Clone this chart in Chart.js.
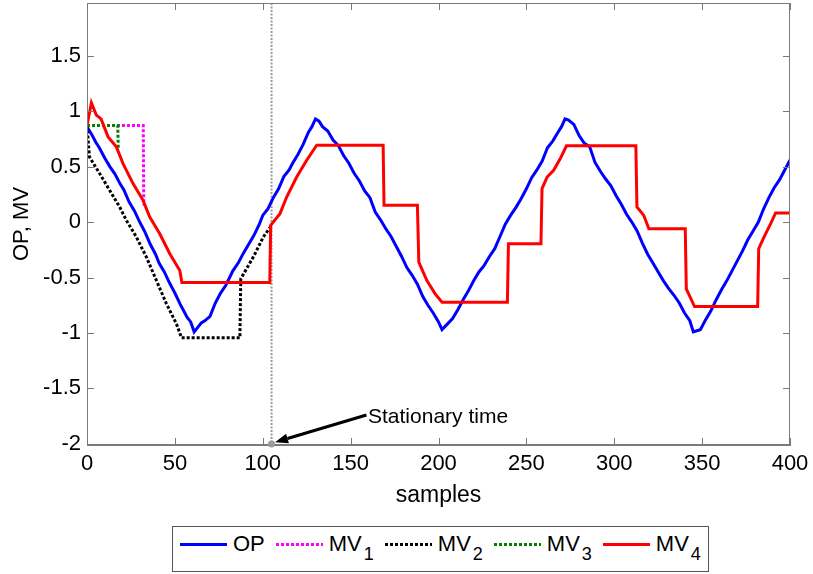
<!DOCTYPE html>
<html>
<head>
<meta charset="utf-8">
<script src="https://cdn.jsdelivr.net/npm/chart.js@4.4.1/dist/chart.umd.min.js"></script>
<style>
  html, body { margin: 0; padding: 0; background: #fff; }
  #wrap { position: relative; width: 813px; height: 574px; overflow: hidden; font-family: "Liberation Sans", Arial, sans-serif; color: #000; }
  #chart { position: absolute; left: 0; top: 0; }
  #note { position: absolute; left: 368px; top: 405px; font-size: 21px; line-height: 21px; white-space: nowrap; }
  #legend { position: absolute; left: 172px; top: 526px; width: 528px; height: 38px; padding-top: 6px; border: 1px solid #555; background: #fff; display: flex; align-items: flex-start; padding-left: 7px; box-sizing: content-box; }
  .item { display: flex; align-items: center; height: 22px; margin-right: 11px; }
  .swatch { width: 47px; height: 3px; margin-right: 6px; }
  .lbl { font-size: 22px; line-height: 22px; white-space: nowrap; }
  .lbl sub { font-size: 18px; vertical-align: -9px; line-height: 0; margin-left: 2px; }
</style>
</head>
<body>
<div id="wrap">
  <canvas id="chart" width="813" height="574"></canvas>
  <div id="note">Stationary time</div>
  <div id="legend"></div>
</div>
<script>
// axis ticks
const xTicks = [0, 50, 100, 150, 200, 250, 300, 350, 400];
const yTicks = [-2, -1.5, -1, -0.5, 0, 0.5, 1, 1.5];

// OP (output)
const opX = [
  0, 3, 5, 7, 10, 13, 16, 19, 21, 24,
  27, 30, 33, 36, 39, 41, 44, 47, 50, 53,
  55, 57, 59, 61, 63, 65, 67, 70, 73, 76,
  79, 83, 86, 89, 92, 95, 98, 100, 103, 106,
  109, 112, 115, 117, 120, 123, 126, 128, 130, 132,
  134, 137, 140, 143, 146, 149, 152, 155, 158, 161,
  164, 167, 170, 173, 176, 179, 182, 185, 188, 191,
  194, 197, 200, 202, 205, 208, 211, 214, 217, 220,
  223, 226, 229, 232, 235, 238, 241, 244, 247, 250,
  253, 256, 259, 262, 265, 268, 270, 272, 274, 277,
  280, 283, 286, 289, 292, 295, 298, 301, 304, 307,
  310, 313, 316, 319, 322, 325, 328, 331, 334, 337,
  340, 343, 345, 347, 349, 352, 355, 358, 361, 364,
  367, 370, 373, 376, 379, 382, 385, 388, 391, 394,
  397, 400
];
const opY = [
  0.86, 0.78, 0.72, 0.67, 0.58, 0.50, 0.43, 0.34, 0.29, 0.18,
  0.10, 0.00, -0.09, -0.20, -0.29, -0.37, -0.45, -0.55, -0.64, -0.74,
  -0.80, -0.86, -0.90, -0.99, -0.95, -0.91, -0.89, -0.85, -0.73, -0.64,
  -0.57, -0.44, -0.37, -0.28, -0.20, -0.12, -0.02, 0.06, 0.12, 0.22,
  0.30, 0.41, 0.47, 0.53, 0.61, 0.70, 0.81, 0.86, 0.93, 0.91,
  0.86, 0.82, 0.74, 0.69, 0.60, 0.53, 0.44, 0.37, 0.28, 0.22,
  0.09, 0.02, -0.06, -0.13, -0.22, -0.31, -0.41, -0.48, -0.56, -0.67,
  -0.75, -0.82, -0.90, -0.97, -0.92, -0.87, -0.79, -0.70, -0.62, -0.53,
  -0.45, -0.39, -0.31, -0.24, -0.13, -0.02, 0.06, 0.13, 0.21, 0.30,
  0.40, 0.47, 0.55, 0.67, 0.73, 0.81, 0.86, 0.93, 0.92, 0.88,
  0.78, 0.71, 0.68, 0.54, 0.46, 0.39, 0.33, 0.24, 0.16, 0.07,
  0.00, -0.08, -0.19, -0.29, -0.37, -0.45, -0.53, -0.60, -0.66, -0.73,
  -0.82, -0.89, -0.99, -0.98, -0.97, -0.88, -0.80, -0.70, -0.61, -0.53,
  -0.44, -0.35, -0.26, -0.16, -0.08, 0.00, 0.12, 0.22, 0.31, 0.38,
  0.47, 0.56
];

// MV1 (magenta, dotted)
const mv1X = [0, 32, 32.3];
const mv1Y = [0.87, 0.87, 0.15];

// MV2 (black, dotted)
const mv2X = [0, 1.4, 7.2, 12.9, 18.6, 22.4, 28.1, 33.8, 39.5, 45.2, 50.9, 53.8, 87, 87.5, 94.6, 100.3, 105];
const mv2Y = [0.87, 0.587, 0.437, 0.286, 0.135, 0.015, -0.135, -0.316, -0.527, -0.737, -0.918, -1.044, -1.044, -0.511, -0.316, -0.135, -0.03];

// MV3 (green, dotted)
const mv3X = [0, 17.5, 17.8];
const mv3Y = [0.87, 0.87, 0.65];

// MV4 (red)
const mv4X = [
  0, 2.5, 5.3, 8, 12, 16.7, 20.5, 26.2, 31.9, 35.7,
  41.4, 47.1, 52.8, 54, 104, 104.5, 109.8, 113.6, 119.3, 125,
  130.7, 168.5, 169, 188, 188.8, 193.4, 198.1, 202, 239.2, 239.8,
  258.3, 258.9, 261.8, 265.5, 269.3, 272.8, 312.3, 312.9, 316.8, 319.7,
  340.4, 341, 345.7, 381.6, 382.2, 385.2, 389, 391.8, 400
];
const mv4Y = [
  0.87, 1.075, 0.964, 0.93, 0.768, 0.678, 0.527, 0.347, 0.196, 0.045,
  -0.105, -0.285, -0.436, -0.545, -0.545, -0.03, 0.076, 0.226, 0.406, 0.557,
  0.693, 0.693, 0.151, 0.151, -0.361, -0.527, -0.647, -0.723, -0.723, -0.195,
  -0.195, 0.302, 0.406, 0.467, 0.572, 0.687, 0.687, 0.136, 0.06, -0.06,
  -0.06, -0.602, -0.762, -0.762, -0.24, -0.135, -0.015, 0.082, 0.082
];

// stationary time marker and arrow (data space)
const stationaryTime = 105;
const arrowFrom = { x: 159, y: -1.74 };
const arrowTo = { x: 107, y: -1.985 };

const FONT = '"Liberation Sans", Arial, sans-serif';
const toPts = (xs, ys) => xs.map((x, i) => ({ x: x, y: ys[i] }));

const series = [
  { label: 'OP', sub: '', color: '#0000ff', dash: [], xs: opX, ys: opY, order: 5 },
  { label: 'MV', sub: '1', color: '#ff00ff', dash: [3, 2], xs: mv1X, ys: mv1Y, order: 4 },
  { label: 'MV', sub: '2', color: '#000000', dash: [3, 2], xs: mv2X, ys: mv2Y, order: 3 },
  { label: 'MV', sub: '3', color: '#008000', dash: [3, 2], xs: mv3X, ys: mv3Y, order: 2 },
  { label: 'MV', sub: '4', color: '#ff0000', dash: [], xs: mv4X, ys: mv4Y, order: 1 }
];

// legend (html, for subscripts)
const legendEl = document.getElementById('legend');
series.forEach(s => {
  const item = document.createElement('div');
  item.className = 'item';
  const sw = document.createElement('div');
  sw.className = 'swatch';
  sw.style.background = s.dash.length
    ? `repeating-linear-gradient(90deg, ${s.color} 0 3px, transparent 3px 5px)`
    : s.color;
  const lbl = document.createElement('span');
  lbl.className = 'lbl';
  lbl.innerHTML = s.label + (s.sub ? `<sub>${s.sub}</sub>` : '');
  item.appendChild(sw);
  item.appendChild(lbl);
  legendEl.appendChild(item);
});

// MATLAB-ish box with inward ticks, stationary line and arrow
const boxPlugin = {
  id: 'boxPlugin',
  beforeDatasetsDraw(chart) {
    const { ctx, chartArea: a, scales: { x } } = chart;
    const px = x.getPixelForValue(stationaryTime);
    ctx.save();
    ctx.strokeStyle = '#9a9a9a';
    ctx.lineWidth = 2;
    ctx.setLineDash([2, 1.5]);
    ctx.beginPath();
    ctx.moveTo(px, a.top);
    ctx.lineTo(px, a.bottom);
    ctx.stroke();
    ctx.restore();
  },
  afterDatasetsDraw(chart) {
    const { ctx, chartArea: a, scales: { x, y } } = chart;
    ctx.save();
    // box
    ctx.strokeStyle = '#7a7a7a';
    ctx.lineWidth = 1;
    ctx.strokeRect(a.left + 0.5, a.top + 0.5, a.right - a.left - 1, a.bottom - a.top - 1);
    // inward ticks
    const tl = 7;
    ctx.beginPath();
    xTicks.forEach(v => {
      const p = Math.round(x.getPixelForValue(v)) + 0.5;
      ctx.moveTo(p, a.bottom); ctx.lineTo(p, a.bottom - tl);
      ctx.moveTo(p, a.top); ctx.lineTo(p, a.top + tl);
    });
    yTicks.forEach(v => {
      const p = Math.round(y.getPixelForValue(v)) + 0.5;
      ctx.moveTo(a.left, p); ctx.lineTo(a.left + tl, p);
      ctx.moveTo(a.right, p); ctx.lineTo(a.right - tl, p);
    });
    ctx.stroke();

    // marker dot
    ctx.fillStyle = '#9a9a9a';
    ctx.beginPath();
    ctx.arc(x.getPixelForValue(stationaryTime), y.getPixelForValue(-2), 3.5, 0, Math.PI * 2);
    ctx.fill();

    // arrow
    const x0 = x.getPixelForValue(arrowFrom.x), y0 = y.getPixelForValue(arrowFrom.y);
    const x1 = x.getPixelForValue(arrowTo.x), y1 = y.getPixelForValue(arrowTo.y);
    const ang = Math.atan2(y1 - y0, x1 - x0);
    const hl = 13, hw = 5;
    const bx = x1 - hl * Math.cos(ang), by = y1 - hl * Math.sin(ang);
    ctx.strokeStyle = '#000';
    ctx.fillStyle = '#000';
    ctx.lineWidth = 3;
    ctx.beginPath();
    ctx.moveTo(x0, y0);
    ctx.lineTo(bx, by);
    ctx.stroke();
    ctx.beginPath();
    ctx.moveTo(x1, y1);
    ctx.lineTo(bx + hw * Math.sin(ang), by - hw * Math.cos(ang));
    ctx.lineTo(bx - hw * Math.sin(ang), by + hw * Math.cos(ang));
    ctx.closePath();
    ctx.fill();
    ctx.restore();
  }
};

new Chart(document.getElementById('chart'), {
  type: 'line',
  data: {
    datasets: series.map(s => ({
      label: s.label + s.sub,
      data: toPts(s.xs, s.ys),
      borderColor: s.color,
      backgroundColor: s.color,
      borderWidth: 3,
      borderDash: s.dash,
      pointRadius: 0,
      tension: 0,
      fill: false,
      order: s.order
    }))
  },
  options: {
    responsive: false,
    animation: false,
    devicePixelRatio: 1,
    layout: { padding: { left: 0, right: 23, top: 3, bottom: 65 } },
    plugins: { legend: { display: false }, tooltip: { enabled: false } },
    scales: {
      x: {
        type: 'linear',
        min: 0,
        max: 400,
        afterBuildTicks: s => { s.ticks = xTicks.map(v => ({ value: v })); },
        afterFit: s => { s.height = 64; s.paddingLeft = 0; s.paddingRight = 0; },
        grid: { display: false, drawTicks: false },
        border: { display: true, color: '#7a7a7a', width: 1 },
        ticks: { color: '#000', padding: 6, maxRotation: 0, autoSkip: false, font: { family: FONT, size: 22 } },
        title: { display: true, text: 'samples', color: '#000', padding: { top: 0, bottom: 0 }, font: { family: FONT, size: 23 } }
      },
      y: {
        type: 'linear',
        min: -2.01,
        max: 1.975,
        afterBuildTicks: s => { s.ticks = yTicks.map(v => ({ value: v })); },
        afterFit: s => { s.width = 87; s.paddingTop = 0; s.paddingBottom = 0; },
        grid: { display: false, drawTicks: false },
        border: { display: true, color: '#7a7a7a', width: 1 },
        ticks: { color: '#000', padding: 6, autoSkip: false, font: { family: FONT, size: 22 }, callback: v => String(v) },
        title: { display: true, text: 'OP, MV', color: '#000', padding: { top: 9, bottom: 0 }, font: { family: FONT, size: 22 } }
      }
    }
  },
  plugins: [boxPlugin]
});
</script>
</body>
</html>
